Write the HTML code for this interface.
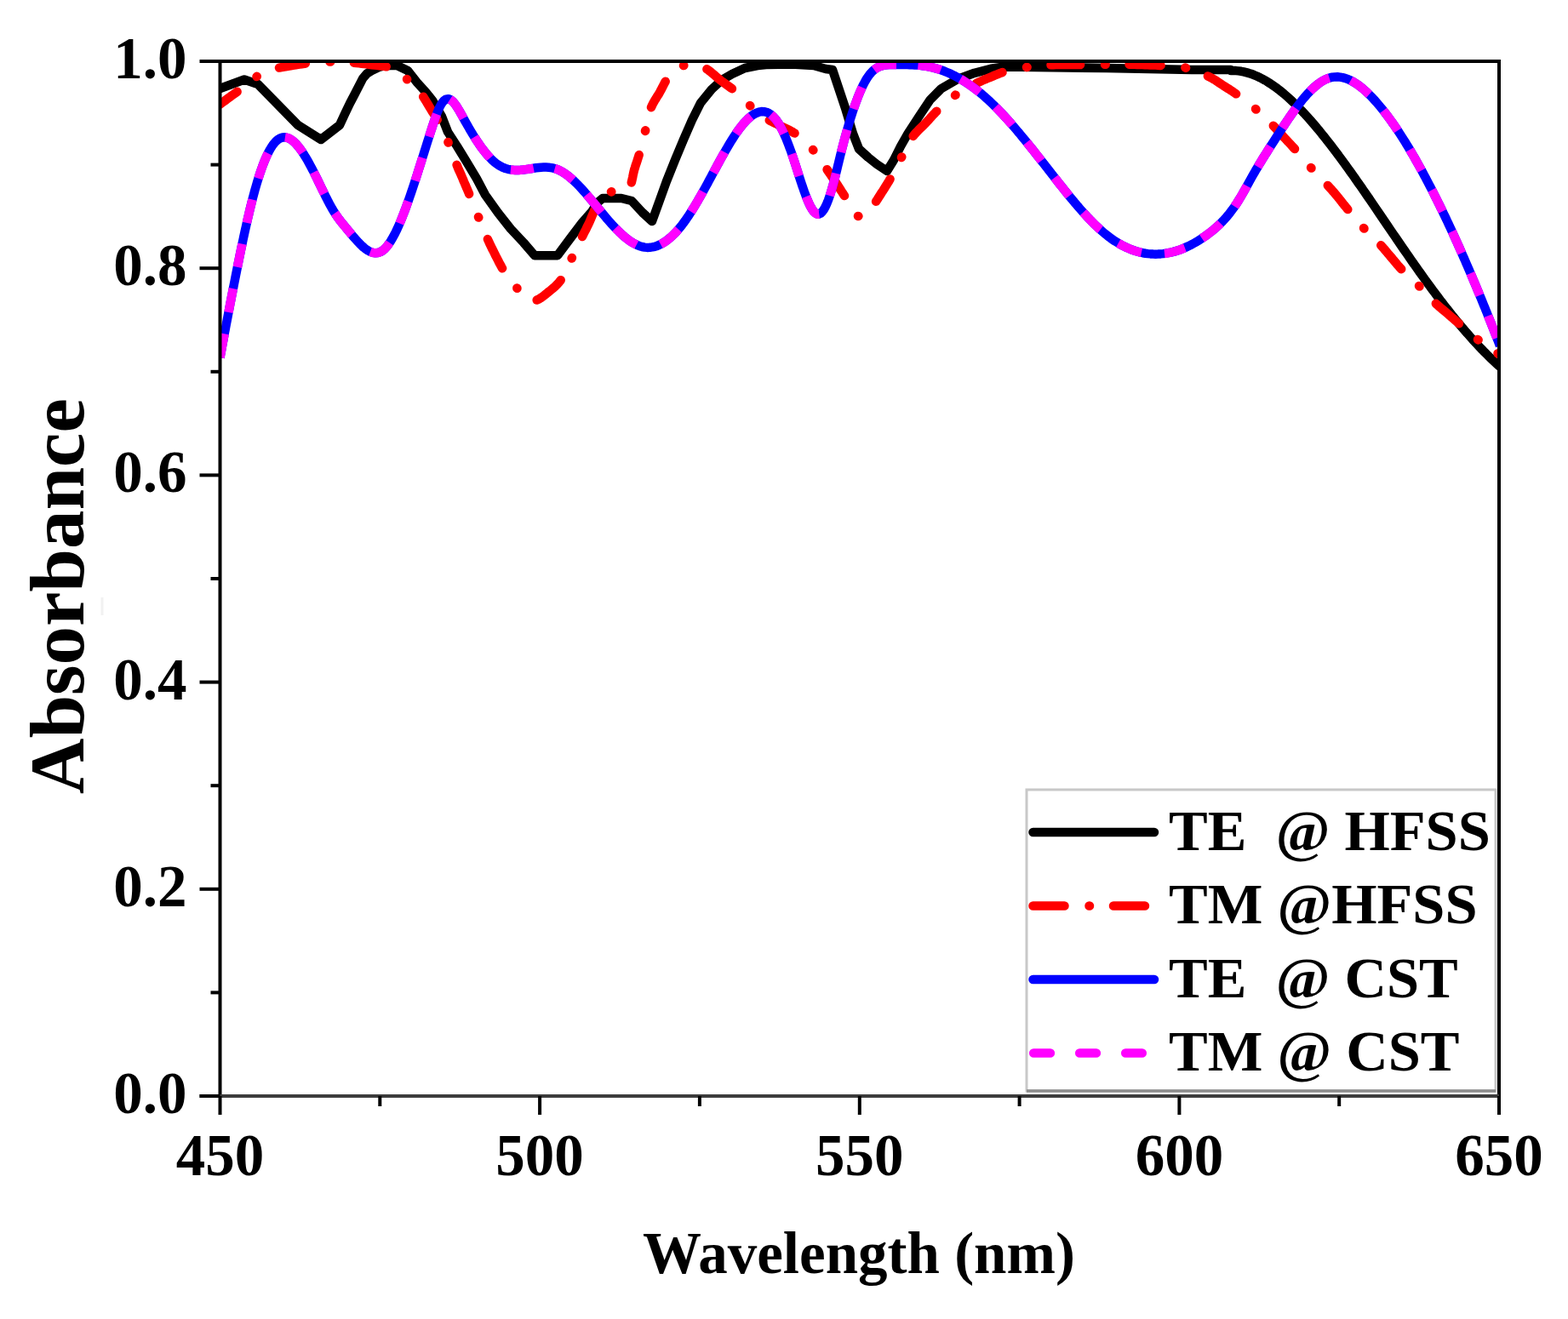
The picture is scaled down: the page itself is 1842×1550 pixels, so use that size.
<!DOCTYPE html>
<html><head><meta charset="utf-8"><title>Absorbance</title>
<style>
html,body{margin:0;padding:0;background:#fff;}
body{width:1842px;height:1550px;overflow:hidden;}
svg{display:block;}
text{font-family:"Liberation Serif","Times New Roman",serif;font-weight:bold;fill:#000;}
</style></head><body>
<svg width="1842" height="1550" viewBox="0 0 1842 1550">
<rect x="0" y="0" width="1842" height="1550" fill="#fff"/>
<defs><clipPath id="pc"><rect x="258.5" y="72" width="1502.5" height="1216"/></clipPath></defs>
<g stroke-linejoin="round" fill="none" clip-path="url(#pc)">
<path d="M258.5,104.0 L287.0,93.5 L303.0,99.0 L350.0,147.0 L377.0,164.0 L399.0,147.0 L405.6,132.8 L411.0,121.5 L416.9,110.2 L426.2,92.1 L431.0,86.5 L436.6,83.0 L445.0,79.0 L452.0,77.2 L466.0,76.8 L479.0,83.0 L490.0,97.0 L500.0,108.0 L508.0,118.0 L519.0,137.0 L526.0,155.0 L537.0,172.0 L548.0,190.0 L560.0,210.0 L570.0,229.0 L585.0,250.0 L600.0,269.0 L615.0,285.0 L628.0,300.2 L655.0,300.2 L670.0,280.0 L684.0,261.5 L695.0,249.0 L702.0,238.0 L708.0,233.0 L730.0,233.0 L742.0,236.0 L755.0,250.0 L766.0,260.0 L774.0,238.0 L783.0,213.0 L793.0,188.0 L803.0,164.0 L813.0,141.0 L823.0,121.0 L836.0,105.0 L848.0,94.0 L860.0,87.0 L875.0,80.0 L890.0,77.0 L900.0,76.0 L930.0,75.5 L956.0,77.0 L970.0,81.0 L978.0,82.0 L983.0,97.0 L993.0,127.0 L1002.0,157.0 L1009.0,175.0 L1020.0,185.0 L1030.0,193.0 L1042.0,201.0 L1050.0,188.0 L1058.0,172.0 L1066.5,157.0 L1079.5,137.0 L1092.6,117.4 L1105.6,104.3 L1125.0,93.0 L1144.7,85.8 L1164.0,80.8 L1180.0,78.5 L1300.0,80.0 L1400.0,82.0 L1446.0,82.0 L1446.0,83.0 L1449.0,83.0 L1452.0,83.1 L1455.0,83.4 L1458.0,83.8 L1461.0,84.4 L1463.9,85.1 L1466.8,85.9 L1469.6,86.8 L1472.4,87.8 L1475.2,89.0 L1478.0,90.2 L1480.7,91.5 L1483.3,92.9 L1485.9,94.3 L1488.5,95.8 L1491.1,97.5 L1493.6,99.1 L1496.1,100.8 L1498.5,102.5 L1500.9,104.3 L1503.3,106.2 L1505.6,108.0 L1507.9,109.9 L1510.2,111.9 L1512.5,113.9 L1514.7,115.9 L1516.9,117.9 L1519.1,120.0 L1521.2,122.0 L1523.4,124.2 L1525.5,126.3 L1527.6,128.5 L1529.7,130.7 L1531.7,132.8 L1533.7,135.0 L1535.8,137.3 L1537.8,139.5 L1539.8,141.8 L1541.7,144.0 L1543.7,146.3 L1545.6,148.5 L1547.5,150.8 L1549.5,153.2 L1551.4,155.5 L1553.3,157.9 L1555.1,160.1 L1557.0,162.5 L1558.9,164.9 L1560.7,167.2 L1562.5,169.5 L1564.4,172.0 L1566.2,174.4 L1568.0,176.7 L1569.8,179.1 L1571.6,181.5 L1573.4,184.0 L1575.2,186.4 L1577.0,188.8 L1578.7,191.2 L1580.5,193.6 L1582.2,196.0 L1584.0,198.5 L1585.7,200.9 L1587.5,203.4 L1589.2,205.8 L1591.0,208.3 L1592.7,210.8 L1594.4,213.2 L1596.1,215.6 L1597.8,218.0 L1599.6,220.6 L1601.3,223.1 L1603.0,225.5 L1604.7,228.0 L1606.4,230.5 L1608.1,232.9 L1609.8,235.4 L1611.5,237.9 L1613.2,240.4 L1614.9,242.9 L1616.6,245.4 L1618.2,247.7 L1619.9,250.2 L1621.6,252.7 L1623.3,255.2 L1625.0,257.7 L1626.7,260.2 L1628.4,262.7 L1630.1,265.2 L1631.7,267.6 L1633.4,270.1 L1635.1,272.6 L1636.8,275.1 L1638.5,277.5 L1640.2,280.0 L1641.9,282.5 L1643.6,285.0 L1645.3,287.5 L1647.0,290.0 L1648.7,292.5 L1650.4,294.9 L1652.1,297.4 L1653.8,299.8 L1655.5,302.3 L1657.2,304.7 L1658.9,307.2 L1660.6,309.6 L1662.3,312.0 L1664.1,314.6 L1665.8,317.0 L1667.5,319.4 L1669.3,321.9 L1671.0,324.3 L1672.8,326.8 L1674.5,329.2 L1676.3,331.6 L1678.1,334.1 L1679.8,336.4 L1681.6,338.9 L1683.4,341.3 L1685.2,343.7 L1687.0,346.1 L1688.8,348.5 L1690.6,350.9 L1692.4,353.3 L1694.2,355.6 L1696.1,358.1 L1697.9,360.4 L1699.8,362.8 L1701.6,365.1 L1703.5,367.5 L1705.3,369.8 L1707.2,372.1 L1709.1,374.5 L1711.0,376.8 L1712.9,379.1 L1714.8,381.4 L1716.8,383.8 L1718.7,386.0 L1720.7,388.4 L1722.6,390.6 L1724.6,392.8 L1726.6,395.1 L1728.6,397.4 L1730.6,399.6 L1732.6,401.8 L1734.6,403.9 L1736.7,406.2 L1738.7,408.3 L1740.8,410.5 L1742.9,412.7 L1745.0,414.8 L1747.1,416.9 L1749.2,419.0 L1751.4,421.1 L1753.6,423.2 L1755.7,425.2 L1758.0,427.3 L1760.2,429.3 L1762.0,430.9" stroke="#000" stroke-width="10.5" stroke-linecap="round"/>
<path d="M258.5,122.5 L261.1,120.6 L263.6,118.8 L265.9,117.0 L268.2,115.3 L270.8,113.4 L273.1,111.8 L275.6,110.0 L278.1,108.2 L278.6,107.8 M301.5,90.0 L301.8,89.8 M328.0,79.6 L330.7,79.1 L333.5,78.6 L336.9,78.0 L339.6,77.6 L342.7,77.0 L345.5,76.6 L348.8,76.0 L351.8,75.6 L354.4,75.2 L357.7,74.8 L358.8,74.6 M387.5,72.5 L388.2,72.5 M415.9,73.7 L418.7,74.0 L422.1,74.4 L424.8,74.7 L428.0,75.1 L430.7,75.4 L433.9,75.9 L436.7,76.2 L440.1,76.6 L443.1,76.9 L446.0,77.2 L448.8,77.6 L451.6,77.9 L453.7,78.3 M478.0,93.0 L478.2,93.2 M497.2,113.7 L498.9,116.3 L500.4,118.7 L502.2,121.7 L503.7,124.2 L505.2,126.8 L506.7,129.2 L508.2,131.7 L510.0,134.5 L511.5,137.0 L513.0,139.5 L513.7,140.8 M526.4,167.0 L526.6,167.6 M536.6,193.8 L537.7,196.5 L538.8,199.2 L540.0,201.8 L541.4,204.9 L542.5,207.5 L543.6,210.0 L544.8,213.0 L546.0,215.8 L547.2,218.5 L548.3,221.2 L549.5,223.9 L550.7,226.8 L551.1,227.9 M562.0,255.0 L562.3,255.6 M572.9,281.1 L574.3,284.1 L575.6,287.0 L576.7,289.3 L578.0,292.0 L579.4,294.7 L580.8,297.5 L582.2,300.4 L583.5,302.9 L584.8,305.4 L586.3,308.4 L587.6,310.8 L589.1,313.6 L590.1,315.3 M607.3,338.5 L607.5,338.7 M630.7,352.6 L633.6,351.2 L636.2,349.5 L638.6,347.8 L640.9,345.9 L643.2,344.0 L645.5,342.2 L647.8,340.3 L650.1,338.4 L652.4,336.3 L654.7,334.0 L656.5,332.0 L658.3,329.7 L658.7,329.2 M671.6,303.6 L671.9,303.0 M684.0,278.0 L685.4,275.1 L686.8,272.4 L688.2,269.8 L689.4,267.2 L690.7,264.6 L692.0,262.0 L693.2,259.2 L694.4,256.4 L695.6,253.5 L696.8,250.7 L698.0,248.0 L698.6,246.7 M718.0,225.4 L718.3,225.3 M741.8,214.4 L742.5,211.5 L743.2,208.3 L743.7,205.6 L744.4,202.5 L745.1,199.5 L746.0,196.8 L746.8,194.1 L747.9,191.0 L748.8,188.2 L749.7,185.3 L750.5,182.7 L750.7,182.1 M758.0,154.0 L758.2,153.3 M765.0,126.2 L766.2,123.5 L767.4,121.1 L769.0,118.3 L770.7,115.6 L772.0,113.4 L773.7,110.8 L775.3,108.0 L776.6,105.6 L778.1,102.6 L779.4,100.1 L780.7,97.6 L781.7,95.7 M803.0,77.0 L803.3,76.9 M830.4,81.2 L832.7,82.8 L835.1,84.7 L837.5,86.7 L840.0,88.8 L842.0,90.6 L844.4,92.7 L846.8,94.6 L849.2,96.4 L851.5,98.0 L853.8,99.7 L856.6,101.7 L858.6,103.2 L859.9,104.2 M881.0,124.0 L881.4,124.4 M903.8,141.4 L906.0,142.6 L908.8,143.9 L911.5,145.2 L914.2,146.6 L916.9,148.0 L919.6,149.2 L922.2,150.4 L925.3,151.9 L927.9,153.2 L930.2,154.5 L933.0,156.3 L933.5,156.6 M955.0,176.0 L955.4,176.5 M971.6,199.2 L973.3,201.7 L975.0,204.1 L976.5,206.4 L978.3,209.0 L979.9,211.4 L981.8,214.2 L983.4,216.6 L984.9,219.0 L986.4,221.4 L988.3,224.4 L989.8,226.6 L991.3,229.0 L992.0,230.0 M1008.0,254.0 L1008.4,254.1 M1029.1,236.7 L1030.9,234.1 L1032.3,231.8 L1034.0,229.1 L1035.7,226.4 L1037.1,224.3 L1038.8,221.7 L1040.4,219.1 L1042.0,216.5 L1043.7,213.8 L1045.0,211.5 L1045.6,210.5 M1059.0,185.0 L1059.3,184.4 M1072.7,160.0 L1074.6,157.6 L1076.6,155.4 L1078.6,153.3 L1080.6,151.3 L1083.1,148.9 L1085.2,146.9 L1087.2,144.8 L1089.2,142.7 L1091.2,140.6 L1093.1,138.4 L1095.5,135.8 L1097.5,133.7 L1099.5,131.5 L1100.3,130.7 M1122.0,112.0 L1122.5,111.6 M1147.0,98.0 L1149.5,96.7 L1152.3,95.4 L1154.8,94.3 L1157.6,93.1 L1160.3,92.0 L1163.2,90.8 L1166.1,89.6 L1168.8,88.4 L1171.6,87.3 L1174.5,86.1 L1177.1,85.2 L1177.5,85.0 M1206.0,79.0 L1206.6,78.9 M1234.5,76.3 L1237.3,76.2 L1240.6,76.1 L1243.4,76.1 L1246.6,76.0 L1249.3,76.0 L1252.5,76.0 L1255.2,76.0 L1258.2,76.0 L1261.3,76.0 L1264.4,76.0 L1267.5,76.0 L1269.1,76.0 M1298.0,75.7 L1298.7,75.7 M1326.6,75.7 L1330.1,75.8 L1332.9,75.8 L1335.8,75.9 L1338.8,76.0 L1341.9,76.1 L1345.0,76.2 L1348.1,76.3 L1351.2,76.4 L1354.2,76.5 L1357.2,76.6 L1360.0,76.7 L1362.7,76.9 L1363.6,76.9 M1392.4,79.5 L1393.1,79.7 M1418.9,89.5 L1421.6,90.8 L1424.6,92.4 L1426.8,93.7 L1429.6,95.5 L1431.9,97.1 L1434.6,98.9 L1437.0,100.5 L1439.4,102.0 L1442.1,103.7 L1444.7,105.3 L1447.0,106.8 L1449.4,108.5 L1452.1,110.3 L1452.1,110.3 M1475.0,128.0 L1475.5,128.5 M1495.8,147.8 L1497.7,149.7 L1499.7,151.9 L1501.9,154.3 L1503.7,156.3 L1505.8,158.6 L1508.0,161.0 L1509.9,163.0 L1512.0,165.3 L1514.1,167.5 L1516.0,169.5 L1518.0,171.7 L1520.2,174.1 L1521.0,175.0 M1540.0,197.0 L1540.5,197.5 M1559.8,217.9 L1561.6,219.9 L1563.7,222.2 L1565.6,224.5 L1567.5,226.6 L1569.6,229.1 L1571.4,231.3 L1573.2,233.5 L1575.2,236.0 L1577.1,238.4 L1578.8,240.6 L1580.6,242.8 L1582.6,245.3 L1583.3,246.1 M1602.0,268.0 L1602.5,268.5 M1622.2,288.3 L1624.0,290.3 L1626.0,292.5 L1628.2,295.1 L1630.0,297.3 L1631.8,299.4 L1634.0,302.0 L1635.9,304.2 L1637.7,306.4 L1639.8,308.9 L1641.6,311.1 L1643.6,313.4 L1645.4,315.3 L1646.2,316.2 M1667.0,336.0 L1667.5,336.5 M1686.8,356.8 L1688.9,358.7 L1691.2,360.7 L1693.4,362.6 L1695.6,364.4 L1698.1,366.5 L1700.3,368.4 L1702.5,370.3 L1704.6,372.2 L1707.1,374.3 L1709.3,376.2 L1711.5,378.1 L1713.9,380.2 L1713.9,380.2 M1736.0,399.0 L1736.6,399.4 M1759.5,415.3 L1762.0,417.0 L1762.0,417.0" stroke="#ff0000" stroke-width="10.5" stroke-linecap="round"/>
<path d="M258.5,420.2 L259.1,416.9 L259.6,414.2 L260.2,411.0 L260.7,408.3 L261.3,405.1 L261.8,402.4 L262.4,399.2 L262.9,396.5 L263.5,393.3 L264.0,390.6 L264.6,387.5 L265.2,384.3 L265.7,381.6 L266.3,378.5 L266.8,375.9 L267.4,372.7 L268.0,369.6 L268.5,367.0 L269.1,363.8 L269.7,360.7 L270.2,358.1 L270.8,355.0 L271.4,351.9 L271.9,349.3 L272.5,346.3 L273.1,343.2 L273.7,340.1 L274.2,337.6 L274.8,334.5 L275.4,331.5 L276.0,328.4 L276.6,325.4 L277.1,322.9 L277.7,319.9 L278.3,316.9 L278.9,313.9 L279.5,310.9 L280.1,307.9 L280.7,305.0 L281.3,302.0 L281.9,299.1 L282.5,296.2 L283.1,293.3 L283.7,290.4 L284.3,287.6 L285.0,284.3 L285.6,281.5 L286.2,278.7 L286.8,275.9 L287.5,272.7 L288.1,269.9 L288.8,266.8 L289.4,264.1 L290.1,261.0 L290.8,257.9 L291.4,255.3 L292.1,252.4 L292.8,249.4 L293.5,246.5 L294.2,243.6 L294.9,240.8 L295.7,237.6 L296.4,234.8 L297.2,231.7 L297.9,229.1 L298.7,226.1 L299.5,223.2 L300.3,220.4 L301.1,217.6 L302.0,214.5 L302.8,211.9 L303.7,209.0 L304.6,206.2 L305.6,203.1 L306.5,200.5 L307.5,197.6 L308.6,194.6 L309.6,192.0 L310.8,189.0 L311.9,186.4 L313.1,183.7 L314.4,180.9 L315.7,178.3 L317.2,175.6 L318.7,173.1 L320.4,170.5 L322.2,168.2 L324.2,166.0 L326.5,164.0 L329.0,162.5 L331.9,161.5 L334.8,161.3 L337.8,162.0 L340.5,163.2 L343.0,164.8 L345.4,166.8 L347.5,168.8 L349.5,171.1 L351.4,173.4 L353.2,175.8 L354.9,178.2 L356.6,180.8 L358.2,183.4 L359.7,185.8 L361.2,188.4 L362.7,191.1 L364.1,193.7 L365.6,196.5 L366.9,199.0 L368.3,201.7 L369.7,204.5 L371.0,207.1 L372.3,209.7 L373.6,212.4 L374.9,215.1 L376.2,217.8 L377.5,220.5 L378.9,223.4 L380.2,226.0 L381.5,228.7 L382.8,231.3 L384.2,234.0 L385.6,236.8 L387.0,239.4 L388.4,242.0 L389.9,244.7 L391.4,247.2 L392.9,249.7 L394.6,252.3 L396.3,254.8 L398.0,257.1 L399.8,259.5 L401.7,261.9 L403.6,264.2 L405.5,266.5 L407.4,268.8 L409.3,271.1 L411.2,273.4 L413.2,275.8 L415.1,278.1 L417.0,280.3 L419.0,282.5 L421.0,284.7 L423.1,286.9 L425.3,289.0 L427.5,291.0 L429.9,292.9 L432.4,294.5 L435.0,295.9 L437.9,296.9 L440.8,297.3 L443.8,297.1 L446.7,296.1 L449.3,294.6 L451.6,292.7 L453.7,290.6 L455.6,288.2 L457.3,285.9 L459.0,283.3 L460.5,280.8 L462.0,278.2 L463.4,275.5 L464.8,272.8 L466.1,270.1 L467.4,267.3 L468.6,264.6 L469.8,261.8 L470.9,259.2 L472.1,256.2 L473.2,253.5 L474.3,250.6 L475.3,248.0 L476.4,245.1 L477.4,242.4 L478.5,239.3 L479.5,236.5 L480.5,233.7 L481.4,231.1 L482.4,228.2 L483.4,225.3 L484.3,222.6 L485.3,219.6 L486.2,216.9 L487.2,213.8 L488.1,211.1 L489.0,208.3 L489.9,205.5 L490.9,202.4 L491.8,199.5 L492.7,196.7 L493.6,193.9 L494.5,191.0 L495.4,188.2 L496.3,185.3 L497.2,182.5 L498.1,179.6 L499.0,176.7 L499.9,173.9 L500.8,171.0 L501.7,168.2 L502.6,165.3 L503.5,162.5 L504.4,159.7 L505.3,156.9 L506.3,153.7 L507.2,151.0 L508.1,148.2 L509.1,145.2 L510.0,142.5 L511.0,139.6 L512.0,136.8 L513.0,134.1 L514.1,131.2 L515.3,128.4 L516.5,125.8 L517.9,123.1 L519.5,120.6 L521.5,118.3 L523.9,116.6 L526.8,116.2 L529.6,117.4 L531.9,119.3 L533.9,121.5 L535.7,124.0 L537.3,126.4 L538.9,129.0 L540.4,131.6 L541.9,134.3 L543.3,136.8 L544.8,139.6 L546.2,142.1 L547.7,144.8 L549.2,147.4 L550.7,150.0 L552.2,152.6 L553.7,155.1 L555.3,157.8 L556.8,160.2 L558.4,162.7 L560.1,165.3 L561.7,167.7 L563.4,170.2 L565.2,172.8 L566.9,175.1 L568.8,177.5 L570.6,179.8 L572.6,182.2 L574.6,184.4 L576.6,186.5 L578.8,188.6 L581.0,190.6 L583.4,192.5 L585.9,194.2 L588.4,195.6 L591.1,196.9 L593.9,198.0 L596.8,198.8 L599.8,199.4 L602.7,199.8 L605.7,200.0 L608.7,199.9 L611.7,199.8 L614.7,199.5 L617.7,199.1 L620.7,198.7 L623.6,198.2 L626.6,197.8 L629.6,197.3 L632.5,197.0 L635.5,196.7 L638.5,196.6 L641.5,196.6 L644.5,196.7 L647.5,197.1 L650.4,197.7 L653.3,198.6 L656.1,199.7 L658.8,201.0 L661.4,202.5 L663.9,204.1 L666.4,205.9 L668.7,207.7 L671.0,209.7 L673.2,211.6 L675.4,213.7 L677.6,215.9 L679.7,218.0 L681.7,220.1 L683.8,222.4 L685.8,224.6 L687.8,226.9 L689.7,229.1 L691.7,231.5 L693.6,233.7 L695.5,236.0 L697.4,238.3 L699.3,240.6 L701.2,242.9 L703.2,245.3 L705.1,247.6 L707.0,249.9 L708.9,252.2 L710.8,254.4 L712.8,256.8 L714.8,259.1 L716.7,261.2 L718.7,263.5 L720.8,265.8 L722.8,267.9 L724.9,270.0 L727.0,272.1 L729.2,274.2 L731.4,276.3 L733.7,278.3 L736.0,280.1 L738.4,282.0 L740.8,283.7 L743.4,285.3 L746.0,286.8 L748.7,288.1 L751.5,289.2 L754.3,290.0 L757.3,290.6 L760.3,290.9 L763.3,290.8 L766.2,290.4 L769.2,289.8 L772.0,288.9 L774.8,287.7 L777.5,286.3 L780.0,284.8 L782.5,283.1 L784.9,281.3 L787.2,279.4 L789.5,277.4 L791.6,275.3 L793.7,273.2 L795.7,271.0 L797.7,268.6 L799.6,266.3 L801.5,263.9 L803.3,261.5 L805.0,259.2 L806.8,256.6 L808.4,254.3 L810.1,251.7 L811.7,249.2 L813.3,246.7 L814.9,244.1 L816.4,241.6 L818.0,238.9 L819.5,236.3 L821.0,233.7 L822.5,231.1 L824.0,228.5 L825.4,225.9 L826.9,223.2 L828.3,220.7 L829.8,218.0 L831.2,215.4 L832.6,212.8 L834.1,210.0 L835.5,207.4 L836.9,204.8 L838.3,202.3 L839.8,199.5 L841.2,196.9 L842.6,194.3 L844.1,191.6 L845.5,189.0 L847.0,186.3 L848.4,183.8 L849.9,181.1 L851.4,178.5 L852.9,175.9 L854.4,173.3 L855.9,170.8 L857.4,168.3 L859.0,165.6 L860.6,163.1 L862.2,160.6 L863.9,158.0 L865.6,155.5 L867.3,153.1 L869.1,150.7 L870.9,148.4 L872.8,146.0 L874.7,143.8 L876.8,141.6 L878.9,139.5 L881.2,137.5 L883.5,135.7 L886.1,134.0 L888.7,132.7 L891.5,131.7 L894.5,131.1 L897.5,131.2 L900.4,131.8 L903.2,133.1 L905.7,134.7 L908.0,136.7 L910.0,138.8 L911.9,141.1 L913.7,143.7 L915.3,146.2 L916.8,148.8 L918.2,151.4 L919.5,154.0 L920.8,156.8 L922.0,159.5 L923.2,162.3 L924.3,165.0 L925.5,168.0 L926.5,170.6 L927.6,173.6 L928.6,176.3 L929.6,179.1 L930.6,182.0 L931.6,184.9 L932.5,187.6 L933.5,190.7 L934.4,193.4 L935.3,196.2 L936.2,199.0 L937.1,201.8 L938.1,205.0 L939.0,207.8 L939.9,210.6 L940.8,213.3 L941.8,216.3 L942.7,219.0 L943.7,221.9 L944.7,224.8 L945.7,227.5 L946.8,230.5 L947.8,233.0 L949.0,236.0 L950.2,238.7 L951.5,241.4 L952.9,244.0 L954.4,246.5 L956.2,248.9 L958.5,250.9 L961.3,251.8 L964.0,250.7 L966.2,248.5 L967.9,246.1 L969.4,243.4 L970.7,240.7 L971.9,237.9 L973.0,235.1 L974.0,232.3 L974.9,229.6 L975.9,226.5 L976.7,223.9 L977.6,220.8 L978.4,218.0 L979.2,215.0 L980.0,212.0 L980.7,209.3 L981.4,206.5 L982.2,203.3 L982.9,200.4 L983.6,197.5 L984.3,194.6 L985.0,191.7 L985.7,188.8 L986.4,185.9 L987.1,183.1 L987.8,180.2 L988.6,177.0 L989.3,174.3 L990.0,171.6 L990.8,168.5 L991.6,165.5 L992.3,162.9 L993.1,160.0 L993.9,157.1 L994.8,153.9 L995.6,151.1 L996.4,148.4 L997.3,145.3 L998.1,142.7 L999.0,139.7 L999.9,136.9 L1000.8,134.1 L1001.8,131.0 L1002.7,128.3 L1003.7,125.4 L1004.7,122.6 L1005.7,119.8 L1006.7,117.1 L1007.8,114.2 L1008.9,111.4 L1010.0,108.8 L1011.2,106.0 L1012.5,103.1 L1013.7,100.5 L1015.1,97.8 L1016.5,95.2 L1018.1,92.5 L1019.7,90.1 L1021.5,87.7 L1023.4,85.4 L1025.5,83.3 L1027.8,81.3 L1030.3,79.7 L1033.0,78.3 L1035.8,77.3 L1038.7,76.6 L1041.7,76.2 L1044.7,76.0 L1047.7,76.0 L1050.7,76.0 L1053.7,76.0 L1056.7,76.0 L1059.7,76.0 L1062.7,76.0 L1065.7,76.1 L1068.7,76.2 L1071.7,76.3 L1074.7,76.4 L1077.6,76.6 L1080.6,76.9 L1083.6,77.2 L1086.6,77.6 L1089.6,78.1 L1092.5,78.7 L1095.4,79.3 L1098.3,80.1 L1101.2,80.9 L1104.1,81.8 L1106.9,82.8 L1109.7,83.8 L1112.5,85.0 L1115.3,86.2 L1118.0,87.4 L1120.7,88.7 L1123.3,90.1 L1126.0,91.6 L1128.6,93.0 L1131.1,94.5 L1133.7,96.2 L1136.2,97.8 L1138.7,99.5 L1141.1,101.2 L1143.6,103.0 L1146.0,104.8 L1148.3,106.6 L1150.7,108.5 L1153.0,110.4 L1155.3,112.4 L1157.5,114.3 L1159.8,116.4 L1162.0,118.4 L1164.2,120.5 L1166.3,122.5 L1168.5,124.6 L1170.6,126.7 L1172.7,128.9 L1174.8,131.1 L1176.8,133.2 L1178.9,135.4 L1180.9,137.6 L1182.9,139.8 L1184.9,142.0 L1186.9,144.3 L1188.9,146.6 L1190.9,148.9 L1192.8,151.1 L1194.8,153.5 L1196.7,155.7 L1198.6,158.0 L1200.5,160.3 L1202.4,162.6 L1204.3,164.9 L1206.2,167.3 L1208.1,169.6 L1210.0,172.0 L1211.9,174.3 L1213.7,176.6 L1215.6,179.0 L1217.5,181.4 L1219.3,183.7 L1221.2,186.1 L1223.0,188.4 L1224.9,190.8 L1226.7,193.1 L1228.6,195.5 L1230.4,197.8 L1232.3,200.3 L1234.1,202.6 L1236.0,205.0 L1237.8,207.3 L1239.7,209.7 L1241.5,212.0 L1243.4,214.4 L1245.2,216.7 L1247.1,219.1 L1249.0,221.5 L1250.8,223.8 L1252.7,226.1 L1254.6,228.5 L1256.5,230.8 L1258.4,233.1 L1260.3,235.4 L1262.2,237.7 L1264.2,240.0 L1266.1,242.3 L1268.1,244.6 L1270.1,246.9 L1272.0,249.0 L1274.1,251.3 L1276.1,253.5 L1278.1,255.7 L1280.2,257.9 L1282.3,260.0 L1284.4,262.2 L1286.5,264.2 L1288.7,266.3 L1290.9,268.4 L1293.1,270.4 L1295.4,272.4 L1297.7,274.4 L1300.0,276.2 L1302.3,278.0 L1304.8,279.9 L1307.2,281.6 L1309.7,283.3 L1312.2,284.8 L1314.8,286.4 L1317.4,287.9 L1320.1,289.3 L1322.8,290.6 L1325.5,291.8 L1328.3,293.0 L1331.1,294.0 L1333.9,295.0 L1336.8,295.8 L1339.7,296.6 L1342.6,297.2 L1345.6,297.7 L1348.5,298.1 L1351.5,298.4 L1354.5,298.6 L1357.5,298.7 L1360.5,298.6 L1363.5,298.4 L1366.5,298.1 L1369.5,297.7 L1372.4,297.2 L1375.4,296.6 L1378.3,295.9 L1381.2,295.1 L1384.0,294.2 L1386.9,293.2 L1389.7,292.1 L1392.4,290.9 L1395.2,289.7 L1397.9,288.3 L1400.5,287.0 L1403.2,285.5 L1405.7,284.1 L1408.3,282.5 L1410.8,280.9 L1413.3,279.2 L1415.8,277.5 L1418.2,275.7 L1420.6,273.9 L1423.0,272.1 L1425.3,270.2 L1427.6,268.2 L1429.9,266.2 L1432.1,264.2 L1434.2,262.1 L1436.3,260.0 L1438.4,257.7 L1440.4,255.5 L1442.3,253.3 L1444.2,250.9 L1446.0,248.6 L1447.8,246.2 L1449.6,243.7 L1451.3,241.2 L1453.0,238.7 L1454.6,236.2 L1456.2,233.6 L1457.7,231.1 L1459.2,228.5 L1460.7,225.9 L1462.2,223.2 L1463.6,220.7 L1465.1,218.0 L1466.5,215.4 L1468.0,212.7 L1469.4,210.2 L1470.9,207.5 L1472.4,204.9 L1473.9,202.3 L1475.4,199.7 L1476.9,197.2 L1478.4,194.6 L1480.0,192.0 L1481.6,189.4 L1483.1,186.9 L1484.7,184.4 L1486.3,181.8 L1487.9,179.3 L1489.5,176.7 L1491.1,174.2 L1492.7,171.7 L1494.4,169.1 L1496.0,166.6 L1497.6,164.1 L1499.2,161.6 L1500.8,159.1 L1502.5,156.5 L1504.1,154.0 L1505.7,151.5 L1507.4,148.9 L1509.0,146.5 L1510.7,143.9 L1512.3,141.6 L1514.0,139.0 L1515.7,136.6 L1517.4,134.1 L1519.2,131.6 L1520.9,129.2 L1522.7,126.7 L1524.5,124.3 L1526.3,122.0 L1528.1,119.7 L1530.0,117.3 L1531.9,115.0 L1533.9,112.7 L1535.9,110.4 L1537.9,108.3 L1540.0,106.1 L1542.2,104.0 L1544.4,102.0 L1546.7,100.1 L1549.1,98.2 L1551.5,96.5 L1554.1,94.9 L1556.7,93.5 L1559.5,92.3 L1562.3,91.4 L1565.2,90.7 L1568.2,90.4 L1571.2,90.3 L1574.2,90.6 L1577.1,91.1 L1580.0,91.8 L1582.9,92.9 L1585.6,94.0 L1588.3,95.4 L1590.9,96.9 L1593.4,98.5 L1595.9,100.2 L1598.3,102.0 L1600.6,103.9 L1602.9,105.9 L1605.1,107.9 L1607.3,110.0 L1609.4,112.0 L1611.5,114.2 L1613.6,116.4 L1615.6,118.6 L1617.6,120.9 L1619.5,123.1 L1621.5,125.5 L1623.4,127.8 L1625.2,130.1 L1627.1,132.5 L1628.9,134.9 L1630.7,137.2 L1632.5,139.7 L1634.3,142.2 L1636.0,144.6 L1637.7,147.0 L1639.4,149.5 L1641.1,152.0 L1642.7,154.4 L1644.4,157.0 L1646.0,159.5 L1647.6,162.0 L1649.2,164.5 L1650.8,167.1 L1652.4,169.7 L1654.0,172.3 L1655.5,174.8 L1657.0,177.3 L1658.6,180.1 L1660.1,182.6 L1661.6,185.2 L1663.1,187.9 L1664.5,190.3 L1666.0,193.0 L1667.5,195.7 L1668.9,198.2 L1670.3,200.8 L1671.8,203.6 L1673.2,206.2 L1674.6,208.8 L1676.0,211.4 L1677.4,214.1 L1678.8,216.8 L1680.2,219.5 L1681.6,222.2 L1682.9,224.7 L1684.3,227.5 L1685.6,230.1 L1687.0,232.9 L1688.3,235.5 L1689.7,238.3 L1691.0,240.9 L1692.3,243.6 L1693.6,246.3 L1694.9,249.0 L1696.2,251.7 L1697.5,254.4 L1698.8,257.1 L1700.1,259.9 L1701.4,262.6 L1702.6,265.2 L1703.9,268.0 L1705.2,270.8 L1706.4,273.4 L1707.7,276.2 L1708.9,278.9 L1710.1,281.5 L1711.4,284.4 L1712.6,287.1 L1713.8,289.7 L1715.1,292.7 L1716.3,295.4 L1717.5,298.1 L1718.7,300.8 L1719.9,303.5 L1721.1,306.3 L1722.3,309.1 L1723.5,311.8 L1724.7,314.6 L1725.9,317.4 L1727.0,320.0 L1728.2,322.8 L1729.4,325.6 L1730.6,328.5 L1731.7,331.1 L1732.9,333.9 L1734.0,336.6 L1735.2,339.5 L1736.3,342.1 L1737.5,345.0 L1738.6,347.7 L1739.8,350.6 L1740.9,353.3 L1742.0,356.0 L1743.2,358.9 L1744.3,361.6 L1745.4,364.4 L1746.5,367.1 L1747.7,370.1 L1748.8,372.8 L1749.9,375.6 L1751.0,378.3 L1752.1,381.1 L1753.2,383.9 L1754.3,386.7 L1755.4,389.5 L1756.5,392.3 L1757.6,395.1 L1758.7,397.9 L1759.8,400.7 L1760.9,403.5 L1762.0,406.4 L1762.0,406.4" stroke="#0000ff" stroke-width="10.5" stroke-linecap="butt"/>
<path d="M258.5,420.2 L258.9,418.0 L259.3,415.8 L259.6,414.2 L260.0,412.0 L260.4,409.9 L260.7,408.3 L261.1,406.1 L261.5,404.0 L261.8,402.4 L262.2,400.2 L262.6,398.1 L262.9,396.5 L263.3,394.4 L263.7,392.2 L263.7,392.2 M268.5,367.0 L268.9,364.9 L269.3,362.8 L269.7,360.7 L270.1,358.6 L270.4,357.1 L270.8,355.0 L271.2,352.9 L271.6,350.9 L272.0,348.8 L272.3,347.3 L272.7,345.2 L273.1,343.2 L273.5,341.1 L273.9,339.1 L273.9,339.1 M278.9,313.9 L279.3,311.9 L279.7,309.9 L280.1,307.9 L280.5,306.0 L280.9,304.0 L281.3,302.0 L281.7,300.1 L282.1,298.2 L282.5,296.2 L282.9,294.3 L283.4,291.9 L283.8,290.0 L284.2,288.1 L284.5,286.6 M289.9,261.9 L290.4,259.7 L290.8,257.9 L291.3,255.8 L291.7,254.1 L292.2,251.9 L292.7,249.8 L293.1,248.1 L293.6,246.1 L294.1,244.0 L294.5,242.4 L295.0,240.4 L295.5,238.4 L296.0,236.4 L296.5,234.4 L296.5,234.4 M303.5,209.6 L304.2,207.4 L304.8,205.5 L305.4,203.7 L306.0,201.9 L306.7,199.9 L307.3,198.2 L308.0,196.3 L308.7,194.4 L309.4,192.5 L310.2,190.5 L310.9,188.8 L311.7,186.9 L312.5,185.0 L313.3,183.2 L314.1,181.5 L314.8,180.1 M334.9,161.4 L336.9,161.7 L338.8,162.3 L340.6,163.2 L342.3,164.3 L343.9,165.5 L345.4,166.8 L346.9,168.2 L348.3,169.7 L349.6,171.2 L350.8,172.6 L352.1,174.3 L353.3,175.9 L354.4,177.5 L355.5,179.1 L355.7,179.4 M368.6,202.3 L369.5,204.1 L370.4,205.9 L371.3,207.7 L372.2,209.5 L373.1,211.4 L374.0,213.2 L374.8,214.9 L375.7,216.8 L376.6,218.6 L377.4,220.3 L378.3,222.1 L379.2,224.0 L380.1,225.8 L380.9,227.5 L381.0,227.7 M393.4,250.5 L394.5,252.1 L395.7,253.9 L396.8,255.5 L398.0,257.1 L399.2,258.7 L400.4,260.3 L401.7,261.9 L402.9,263.4 L404.2,265.0 L405.5,266.5 L406.7,268.0 L408.0,269.5 L409.3,271.1 L410.6,272.7 L411.9,274.2 L413.1,275.7 L413.2,275.8 M435.0,295.9 L436.9,296.6 L438.9,297.1 L440.8,297.3 L442.8,297.2 L444.8,296.8 L446.7,296.1 L448.4,295.2 L450.1,294.0 L451.6,292.7 L453.0,291.3 L454.3,289.9 L455.6,288.2 L456.8,286.6 L457.7,285.3 M469.5,262.5 L470.3,260.6 L471.1,258.7 L471.9,256.7 L472.6,255.0 L473.3,253.2 L474.1,251.2 L474.8,249.3 L475.5,247.5 L476.2,245.6 L476.9,243.7 L477.6,241.8 L478.3,239.9 L478.9,238.2 L479.5,236.5 M487.7,212.3 L488.4,210.1 L489.0,208.3 L489.6,206.4 L490.2,204.6 L490.8,202.7 L491.4,200.8 L492.0,198.9 L492.6,197.0 L493.2,195.1 L493.9,192.9 L494.5,191.0 L495.1,189.1 L495.7,187.2 L496.3,185.3 L496.3,185.3 M504.1,160.6 L504.8,158.4 L505.4,156.5 L506.0,154.7 L506.6,152.8 L507.2,151.0 L507.8,149.1 L508.4,147.3 L509.1,145.2 L509.7,143.4 L510.3,141.6 L511.0,139.6 L511.7,137.6 L512.3,135.9 L513.0,134.1 M528.6,116.8 L530.3,117.9 L531.8,119.2 L533.2,120.7 L534.5,122.3 L535.6,123.8 L536.8,125.6 L537.8,127.2 L538.9,129.0 L539.9,130.7 L540.9,132.5 L541.8,134.1 L542.8,135.9 L543.8,137.7 L544.5,139.0 M557.3,161.0 L558.4,162.7 L559.5,164.4 L560.6,166.1 L561.7,167.7 L562.8,169.3 L564.0,171.1 L565.1,172.6 L566.3,174.3 L567.5,175.9 L568.7,177.4 L570.0,179.1 L571.3,180.6 L572.5,182.0 L573.9,183.6 L575.2,185.0 L575.7,185.6 M599.9,199.5 L601.9,199.7 L603.9,199.9 L605.9,200.0 L607.9,200.0 L609.9,199.9 L611.9,199.8 L613.9,199.6 L615.9,199.3 L617.9,199.1 L619.9,198.8 L621.8,198.5 L623.8,198.2 L625.8,197.9 L626.8,197.7 M651.7,198.1 L653.7,198.7 L655.5,199.4 L657.3,200.2 L659.1,201.2 L660.9,202.2 L662.6,203.3 L664.2,204.3 L665.8,205.5 L667.4,206.7 L669.0,208.0 L670.5,209.2 L672.0,210.5 L673.1,211.5 M689.3,228.6 L690.7,230.3 L691.9,231.7 L693.2,233.2 L694.5,234.8 L695.8,236.4 L697.1,237.9 L698.3,239.4 L699.6,240.9 L700.9,242.5 L702.2,244.1 L703.4,245.6 L704.7,247.1 L706.0,248.7 L706.6,249.4 M723.0,268.1 L724.4,269.5 L725.8,270.9 L727.3,272.4 L728.7,273.8 L730.2,275.2 L731.7,276.5 L733.2,277.8 L734.7,279.1 L736.2,280.3 L737.8,281.5 L739.5,282.8 L741.1,283.9 L742.8,285.0 L744.5,286.0 L746.3,286.9 L747.8,287.7 M776.1,287.1 L777.9,286.1 L779.6,285.1 L781.3,284.0 L782.9,282.9 L784.5,281.7 L786.1,280.4 L787.6,279.1 L789.1,277.7 L790.6,276.3 L792.0,274.9 L793.4,273.5 L794.7,272.1 L796.1,270.5 L797.0,269.5 M811.9,248.9 L813.0,247.2 L814.0,245.5 L815.1,243.7 L816.1,242.1 L817.1,240.4 L818.2,238.6 L819.2,236.9 L820.2,235.1 L821.2,233.4 L822.2,231.6 L823.2,229.9 L824.1,228.3 L825.1,226.5 L825.8,225.2 M838.0,202.8 L838.9,201.1 L839.9,199.3 L840.8,197.6 L841.8,195.8 L842.7,194.1 L843.7,192.3 L844.6,190.7 L845.6,188.8 L846.6,187.0 L847.5,185.4 L848.5,183.6 L849.5,181.8 L850.5,180.1 L851.2,178.8 M864.5,157.1 L865.6,155.5 L866.7,154.0 L867.9,152.3 L869.1,150.7 L870.3,149.1 L871.6,147.5 L872.8,146.0 L874.1,144.5 L875.5,143.0 L876.8,141.6 L878.2,140.2 L879.7,138.8 L881.2,137.5 L882.3,136.6 M905.6,134.6 L907.1,135.9 L908.6,137.3 L910.0,138.8 L911.2,140.2 L912.5,142.0 L913.6,143.5 L914.7,145.2 L915.7,146.9 L916.7,148.6 L917.7,150.5 L918.6,152.2 L919.5,154.0 L920.3,155.7 L920.9,157.0 M930.2,180.9 L930.8,182.6 L931.5,184.7 L932.1,186.4 L932.8,188.5 L933.4,190.4 L934.0,192.2 L934.6,194.1 L935.2,195.9 L935.8,197.8 L936.5,200.0 L937.1,201.8 L937.7,203.7 L938.3,205.6 L938.7,206.8 M947.0,231.0 L947.7,232.8 L948.4,234.5 L949.2,236.4 L950.0,238.2 L950.9,240.2 L951.7,241.8 L952.7,243.7 L953.7,245.4 L954.8,247.1 L956.0,248.6 L957.4,250.1 L959.0,251.2 L960.9,251.8 L962.3,251.6 M974.8,230.0 L975.4,228.1 L976.0,226.2 L976.6,224.2 L977.2,222.2 L977.7,220.5 L978.3,218.4 L978.8,216.5 L979.3,214.7 L979.8,212.8 L980.3,210.8 L980.8,208.9 L981.3,206.9 L981.8,204.9 L982.1,203.7 M988.1,179.0 L988.6,177.0 L989.1,175.1 L989.6,173.1 L990.1,171.2 L990.6,169.3 L991.1,167.4 L991.6,165.5 L992.2,163.3 L992.7,161.4 L993.2,159.6 L993.7,157.8 L994.3,155.7 L994.8,153.9 L995.2,152.5 M1002.8,128.0 L1003.4,126.3 L1004.1,124.3 L1004.7,122.6 L1005.4,120.6 L1006.1,118.7 L1006.8,116.8 L1007.5,115.0 L1008.2,113.2 L1009.0,111.2 L1009.7,109.5 L1010.5,107.6 L1011.3,105.7 L1012.1,103.9 L1012.7,102.6 M1027.0,82.0 L1028.6,80.8 L1030.3,79.7 L1032.0,78.7 L1033.9,77.9 L1035.8,77.3 L1037.7,76.8 L1039.7,76.4 L1041.6,76.2 L1043.6,76.0 L1045.6,76.0 L1047.6,76.0 L1049.6,76.0 L1051.6,76.0 L1053.0,76.0 M1078.5,76.7 L1080.5,76.9 L1082.5,77.1 L1084.4,77.3 L1086.4,77.6 L1088.4,77.9 L1090.4,78.3 L1092.3,78.6 L1094.3,79.1 L1096.2,79.5 L1098.2,80.0 L1100.1,80.6 L1102.0,81.1 L1103.9,81.7 L1105.2,82.2 M1128.3,92.9 L1130.0,93.9 L1131.7,94.9 L1133.4,96.0 L1135.1,97.1 L1136.8,98.2 L1138.4,99.3 L1140.1,100.5 L1141.7,101.6 L1143.3,102.8 L1144.9,104.0 L1146.5,105.2 L1148.1,106.4 L1149.6,107.6 L1150.7,108.5 M1169.5,125.6 L1171.0,127.1 L1172.4,128.6 L1173.8,130.0 L1175.1,131.4 L1176.5,132.9 L1177.9,134.4 L1179.2,135.8 L1180.6,137.3 L1181.9,138.7 L1183.3,140.2 L1184.6,141.7 L1185.9,143.2 L1187.3,144.8 L1188.6,146.2 L1189.1,146.8 M1206.2,167.3 L1207.5,168.9 L1208.8,170.5 L1210.0,172.0 L1211.3,173.6 L1212.5,175.1 L1213.8,176.7 L1215.0,178.2 L1216.2,179.8 L1217.5,181.4 L1218.7,182.9 L1220.0,184.6 L1221.2,186.1 L1222.4,187.6 L1223.3,188.8 M1238.9,208.7 L1240.2,210.4 L1241.4,211.9 L1242.7,213.6 L1243.9,215.1 L1245.1,216.6 L1246.4,218.2 L1247.6,219.7 L1248.9,221.4 L1250.1,222.9 L1251.4,224.5 L1252.6,226.0 L1253.9,227.6 L1255.1,229.1 L1256.0,230.2 M1272.5,249.6 L1273.9,251.1 L1275.2,252.5 L1276.6,254.1 L1278.0,255.6 L1279.3,256.9 L1280.7,258.4 L1282.1,259.8 L1283.5,261.3 L1284.9,262.7 L1286.4,264.1 L1287.8,265.5 L1289.2,266.8 L1290.7,268.2 L1292.2,269.6 L1292.6,269.9 M1313.7,285.8 L1315.5,286.8 L1317.2,287.8 L1319.0,288.7 L1320.8,289.6 L1322.6,290.5 L1324.4,291.3 L1326.2,292.1 L1328.1,292.9 L1329.9,293.6 L1331.8,294.3 L1333.7,294.9 L1335.6,295.5 L1337.6,296.0 L1339.5,296.5 L1340.9,296.8 M1368.0,297.9 L1370.0,297.7 L1372.0,297.3 L1374.0,296.9 L1375.9,296.5 L1377.9,296.0 L1379.8,295.5 L1381.7,294.9 L1383.6,294.3 L1385.5,293.7 L1387.4,293.0 L1389.2,292.3 L1391.1,291.5 L1391.9,291.2 M1412.0,280.1 L1413.7,278.9 L1415.3,277.8 L1417.0,276.6 L1418.6,275.4 L1420.2,274.2 L1421.8,273.0 L1423.3,271.8 L1424.9,270.5 L1426.4,269.3 L1427.9,268.0 L1429.4,266.6 L1430.9,265.3 L1432.4,263.9 L1433.8,262.5 M1450.4,242.6 L1451.5,240.9 L1452.6,239.3 L1453.7,237.6 L1454.8,235.9 L1455.9,234.1 L1456.9,232.4 L1457.9,230.7 L1458.9,229.0 L1459.9,227.3 L1460.9,225.5 L1461.9,223.7 L1462.9,222.0 L1463.8,220.3 L1464.8,218.5 M1477.6,196.0 L1478.6,194.3 L1479.7,192.5 L1480.7,190.8 L1481.8,189.0 L1482.8,187.4 L1483.9,185.6 L1484.9,184.0 L1486.0,182.3 L1487.0,180.7 L1488.1,178.9 L1489.2,177.2 L1490.2,175.6 L1491.3,173.9 L1492.4,172.2 M1506.5,150.3 L1507.5,148.8 L1508.6,147.1 L1509.8,145.3 L1510.9,143.6 L1512.0,142.0 L1513.1,140.4 L1514.2,138.8 L1515.3,137.1 L1516.5,135.4 L1517.6,133.8 L1518.8,132.1 L1519.9,130.6 L1521.1,128.9 L1522.3,127.3 M1538.8,107.4 L1540.2,105.9 L1541.7,104.5 L1543.1,103.2 L1544.6,101.8 L1546.1,100.6 L1547.7,99.3 L1549.3,98.1 L1550.9,96.9 L1552.6,95.8 L1554.3,94.8 L1556.1,93.8 L1557.9,93.0 L1559.7,92.2 L1561.6,91.6 M1586.7,94.5 L1588.5,95.5 L1590.3,96.5 L1592.0,97.6 L1593.6,98.6 L1595.3,99.8 L1596.9,101.0 L1598.5,102.2 L1600.0,103.4 L1601.6,104.8 L1603.1,106.1 L1604.6,107.4 L1606.0,108.7 L1607.5,110.2 L1608.4,111.0 M1625.1,129.9 L1626.4,131.6 L1627.6,133.1 L1628.8,134.7 L1630.0,136.3 L1631.2,137.9 L1632.4,139.6 L1633.6,141.2 L1634.7,142.7 L1635.9,144.4 L1637.1,146.2 L1638.2,147.7 L1639.3,149.3 L1640.4,151.0 L1641.6,152.8 L1642.0,153.4 M1656.1,175.8 L1657.2,177.7 L1658.2,179.4 L1659.2,181.1 L1660.2,182.8 L1661.2,184.5 L1662.2,186.3 L1663.2,188.0 L1664.2,189.8 L1665.2,191.6 L1666.1,193.2 L1667.1,195.0 L1668.1,196.8 L1669.0,198.4 L1670.0,200.3 M1682.1,223.2 L1683.0,224.9 L1684.0,226.9 L1684.9,228.7 L1685.8,230.5 L1686.7,232.3 L1687.5,233.9 L1688.4,235.7 L1689.3,237.5 L1690.2,239.3 L1691.1,241.1 L1692.0,243.0 L1692.9,244.8 L1693.7,246.5 L1694.6,248.3 M1705.7,271.9 L1706.5,273.6 L1707.4,275.6 L1708.2,277.3 L1709.0,279.1 L1709.8,280.8 L1710.7,282.8 L1711.5,284.6 L1712.3,286.4 L1713.1,288.2 L1713.9,290.0 L1714.8,292.0 L1715.6,293.8 L1716.4,295.6 L1717.2,297.4 M1727.5,321.2 L1728.3,323.0 L1729.1,324.9 L1729.9,326.8 L1730.7,328.7 L1731.4,330.4 L1732.2,332.3 L1733.0,334.2 L1733.8,336.1 L1734.5,337.8 L1735.3,339.7 L1736.1,341.6 L1736.8,343.3 L1737.6,345.2 L1738.3,346.9 M1748.1,371.1 L1748.9,373.1 L1749.6,374.8 L1750.4,376.8 L1751.1,378.6 L1751.8,380.3 L1752.6,382.4 L1753.3,384.1 L1754.0,385.9 L1754.8,387.9 L1755.5,389.7 L1756.2,391.5 L1757.0,393.5 L1757.7,395.3 L1758.4,397.1" stroke="#ff00ff" stroke-width="10.5" stroke-linecap="butt"/>
</g>
<rect x="118.5" y="702" width="3" height="21" fill="#f1f1f1"/>
<!-- legend box -->
<rect x="1206" y="928" width="551" height="354" fill="#fff" stroke="#c8c8c8" stroke-width="3"/>
<line x1="1206" y1="1282" x2="1757" y2="1282" stroke="#8c8c8c" stroke-width="3.5"/>
<g stroke-linecap="round" stroke-width="10.5" fill="none">
<line x1="1213.5" y1="978" x2="1356" y2="978" stroke="#000"/>
<line x1="1213.5" y1="1064.5" x2="1356" y2="1064.5" stroke="#ff0000" stroke-dasharray="37 29 0.5 28"/>
<line x1="1213.5" y1="1151" x2="1356" y2="1151" stroke="#0000ff"/>
<line x1="1214.2" y1="1237.5" x2="1341.8" y2="1237.5" stroke="#ff00ff" stroke-linecap="round" stroke-dasharray="19.7 34.3"/>
</g>
<g style="font-size:68.5px">
<text x="1373" y="998.8" xml:space="preserve">TE  @ HFSS</text>
<text x="1373" y="1085.3" xml:space="preserve">TM @HFSS</text>
<text x="1373" y="1171.8" xml:space="preserve">TE  @ CST</text>
<text x="1373" y="1258.3" xml:space="preserve">TM @ CST</text>
</g>
<!-- frame -->
<g stroke="#000" stroke-width="4" fill="none">
<line x1="256.5" y1="72" x2="1763" y2="72"/>
<line x1="258.5" y1="70" x2="258.5" y2="1290"/>
<line x1="1761" y1="70" x2="1761" y2="1310"/>
</g>
<line x1="234.5" y1="1288" x2="1761" y2="1288" stroke="#3c3c3c" stroke-width="4"/>
<g stroke="#000" stroke-width="4">
<line x1="234.5" y1="1288.0" x2="258.5" y2="1288.0"/>
<line x1="234.5" y1="1044.8" x2="258.5" y2="1044.8"/>
<line x1="234.5" y1="801.6" x2="258.5" y2="801.6"/>
<line x1="234.5" y1="558.4" x2="258.5" y2="558.4"/>
<line x1="234.5" y1="315.2" x2="258.5" y2="315.2"/>
<line x1="234.5" y1="72.0" x2="258.5" y2="72.0"/>
<line x1="247.5" y1="1166.4" x2="258.5" y2="1166.4"/>
<line x1="247.5" y1="923.2" x2="258.5" y2="923.2"/>
<line x1="247.5" y1="680.0" x2="258.5" y2="680.0"/>
<line x1="247.5" y1="436.8" x2="258.5" y2="436.8"/>
<line x1="247.5" y1="193.6" x2="258.5" y2="193.6"/>
<line x1="258.5" y1="1288" x2="258.5" y2="1310"/>
<line x1="634.1" y1="1288" x2="634.1" y2="1310"/>
<line x1="1009.8" y1="1288" x2="1009.8" y2="1310"/>
<line x1="1385.4" y1="1288" x2="1385.4" y2="1310"/>
<line x1="1761.0" y1="1288" x2="1761.0" y2="1310"/>
<line x1="446.3" y1="1288" x2="446.3" y2="1300"/>
<line x1="821.9" y1="1288" x2="821.9" y2="1300"/>
<line x1="1197.6" y1="1288" x2="1197.6" y2="1300"/>
<line x1="1573.2" y1="1288" x2="1573.2" y2="1300"/>
</g>
<g style="font-size:69px">
<text x="219.5" y="1308.0" text-anchor="end">0.0</text>
<text x="219.5" y="1064.8" text-anchor="end">0.2</text>
<text x="219.5" y="821.6" text-anchor="end">0.4</text>
<text x="219.5" y="578.4" text-anchor="end">0.6</text>
<text x="219.5" y="335.2" text-anchor="end">0.8</text>
<text x="219.5" y="92.0" text-anchor="end">1.0</text>
<text x="258.5" y="1381" text-anchor="middle">450</text>
<text x="634.1" y="1381" text-anchor="middle">500</text>
<text x="1009.8" y="1381" text-anchor="middle">550</text>
<text x="1385.4" y="1381" text-anchor="middle">600</text>
<text x="1761.0" y="1381" text-anchor="middle">650</text>
</g>
<text x="1009" y="1496" text-anchor="middle" style="font-size:69px">Wavelength (nm)</text>
<text transform="translate(97.8,700.7) rotate(-90)" text-anchor="middle" style="font-size:91px">Absorbance</text>
</svg>
</body></html>
